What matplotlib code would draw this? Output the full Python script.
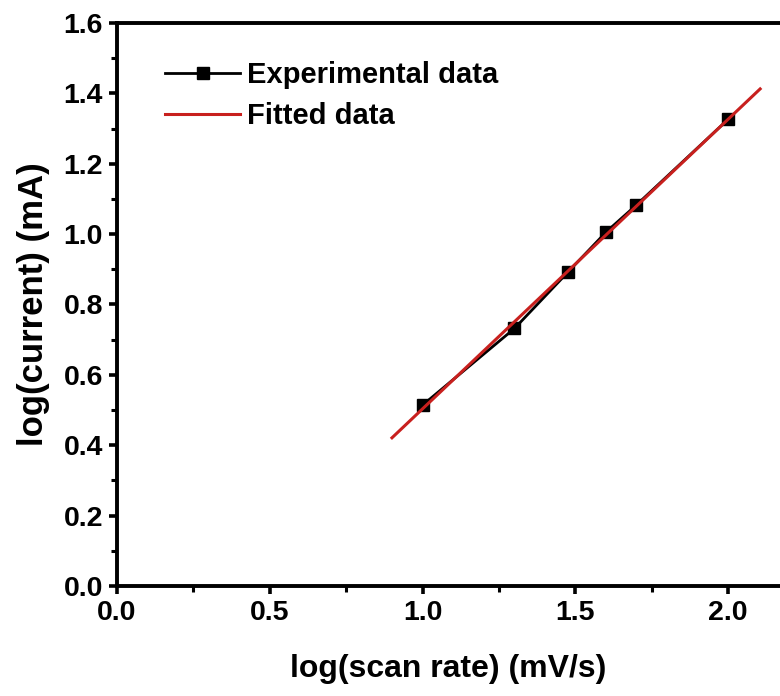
import numpy as np
import matplotlib
matplotlib.use("Agg")
import matplotlib.pyplot as plt
from matplotlib.ticker import MultipleLocator

# log of scan rates 10, 20, 30, 40, 50, 100 mV/s
log_scan_rate = [1.0, 1.301, 1.477, 1.602, 1.699, 2.0]
log_current = [0.514, 0.732, 0.893, 1.007, 1.082, 1.326]
fit_range = [0.9, 2.105]

plt.rcParams['font.family'] = ['Liberation Sans', 'DejaVu Sans']
plt.rcParams['font.weight'] = 'bold'

fig = plt.figure(figsize=(7.8, 6.96), dpi=100)
ax = fig.add_axes([0.15, 0.158, 0.85, 0.809])

slope, intercept = np.polyfit(log_scan_rate, log_current, 1)
fit_x = np.array(fit_range)
fit_y = slope * fit_x + intercept

ax.plot(log_scan_rate, log_current, color='black', lw=2.0, marker='s',
        markersize=9, label='Experimental data', zorder=2)
ax.plot(fit_x, fit_y, color='#c8201e', lw=2.2, label='Fitted data', zorder=3)

ax.set_xlim(0, 2.17)
ax.set_ylim(0, 1.6)
ax.xaxis.set_major_locator(MultipleLocator(0.5))
ax.xaxis.set_minor_locator(MultipleLocator(0.25))
ax.yaxis.set_major_locator(MultipleLocator(0.2))
ax.yaxis.set_minor_locator(MultipleLocator(0.1))
ax.xaxis.set_major_formatter(plt.FuncFormatter(lambda v, p: f"{v:.1f}"))
ax.yaxis.set_major_formatter(plt.FuncFormatter(lambda v, p: f"{v:.1f}"))

for side in ['left', 'bottom', 'top']:
    ax.spines[side].set_linewidth(2.8)
ax.spines['right'].set_visible(False)

ax.tick_params(which='major', direction='out', length=6, width=2.6,
               labelsize=20.5, pad=4)
ax.tick_params(which='minor', direction='out', length=4, width=2.2)
ax.tick_params(top=False, right=False)

ax.set_xlabel('log(scan rate) (mV/s)', fontsize=23, fontweight='bold', labelpad=20)
ax.set_ylabel('log(current) (mA)', fontsize=25, fontweight='bold', labelpad=10)

ax.legend(loc='upper left', bbox_to_anchor=(0.033, 0.979), frameon=False,
          fontsize=21, handlelength=2.57, handletextpad=0.24, labelspacing=0.45)

fig.savefig('out.png', dpi=100)
